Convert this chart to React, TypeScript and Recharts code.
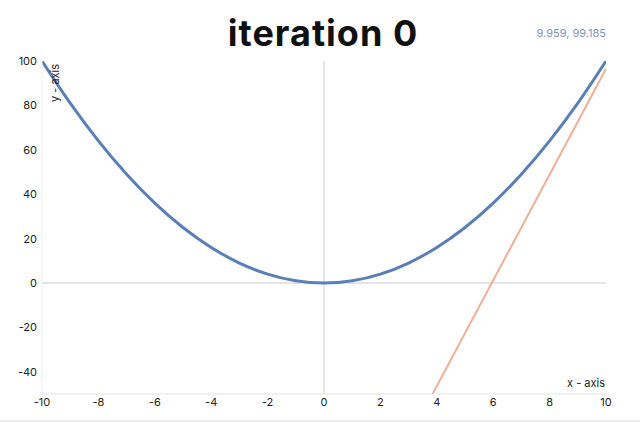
import { LineChart, Line, XAxis, YAxis, ReferenceLine } from "recharts";

const curveX = [-10, -9, -8, -7, -6, -5, -4, -3, -2, -1, 0, 1, 2, 3, 4, 5, 6, 7, 8, 9, 10];
const curveY = [100, 81, 64, 49, 36, 25, 16, 9, 4, 1, 0, 1, 4, 9, 16, 25, 36, 49, 64, 81, 100];

const tangentX = [3.85, 10];
const tangentY = [-50, 96.5];

const xTicks = [-10, -8, -6, -4, -2, 0, 2, 4, 6, 8, 10];
const yTicks = [-40, -20, 0, 20, 40, 60, 80, 100];

const title = "iteration 0";
const cursorText = "9.959, 99.185";

const curveData = curveX.map((x, i) => ({ x, y: curveY[i] }));
const tangentData = tangentX.map((x, i) => ({ x, y: tangentY[i] }));

const font = "Inter, 'Noto Sans', sans-serif";

export default function App() {
  return (
    <div
      style={{
        position: "absolute",
        left: 0,
        top: 0,
        width: 640,
        height: 422,
        background: "#fff",
        fontFamily: font,
      }}
    >
      <div
        style={{
          position: "absolute",
          left: 0,
          top: 10,
          width: 646,
          textAlign: "center",
          fontSize: 36,
          fontWeight: 700,
          letterSpacing: 1,
          color: "#111",
          lineHeight: "46px",
        }}
      >
        {title}
      </div>
      <div
        style={{
          position: "absolute",
          right: 34,
          top: 26,
          fontSize: 11,
          color: "#7f95b9",
        }}
      >
        {cursorText}
      </div>
      <LineChart
        width={640}
        height={422}
        margin={{ top: 61, right: 34, bottom: 0, left: 12 }}
        style={{ position: "absolute", left: 0, top: 0 }}
      >
        <XAxis
          dataKey="x"
          type="number"
          domain={[-10, 10]}
          ticks={xTicks}
          allowDataOverflow
          height={28}
          tickLine={false}
          tickSize={0}
          tickMargin={4}
          stroke="#e3e3e3"
          tick={{ fill: "#222", fontSize: 11, fontFamily: font }}
        />
        <YAxis
          type="number"
          domain={[-50, 100]}
          ticks={yTicks}
          allowDataOverflow
          width={30}
          tickLine={false}
          tickSize={0}
          tickMargin={5}
          stroke="#f0f0f0"
          tick={{ fill: "#222", fontSize: 11, fontFamily: font }}
        />
        <ReferenceLine x={0} stroke="#dcdcdc" strokeWidth={1.5} />
        <ReferenceLine y={0} stroke="#dcdcdc" strokeWidth={1.5} />
        <Line
          data={tangentData}
          dataKey="y"
          type="linear"
          stroke="#efb096"
          strokeWidth={2}
          dot={false}
          isAnimationActive={false}
        />
        <Line
          data={curveData}
          dataKey="y"
          type="monotone"
          stroke="#5a7fb5"
          strokeWidth={3}
          dot={false}
          isAnimationActive={false}
        />
      </LineChart>
      <div
        style={{
          position: "absolute",
          left: 48,
          top: 62,
          width: 14,
          height: 40,
          fontSize: 11,
          color: "#222",
          writingMode: "vertical-rl",
          transform: "rotate(180deg)",
          whiteSpace: "nowrap",
        }}
      >
        y - axis
      </div>
      <div
        style={{
          position: "absolute",
          right: 35,
          top: 376,
          fontSize: 11,
          color: "#222",
        }}
      >
        x - axis
      </div>
      <div
        style={{
          position: "absolute",
          left: 0,
          top: 420,
          width: 640,
          height: 2,
          background: "#eee",
        }}
      />
    </div>
  );
}
